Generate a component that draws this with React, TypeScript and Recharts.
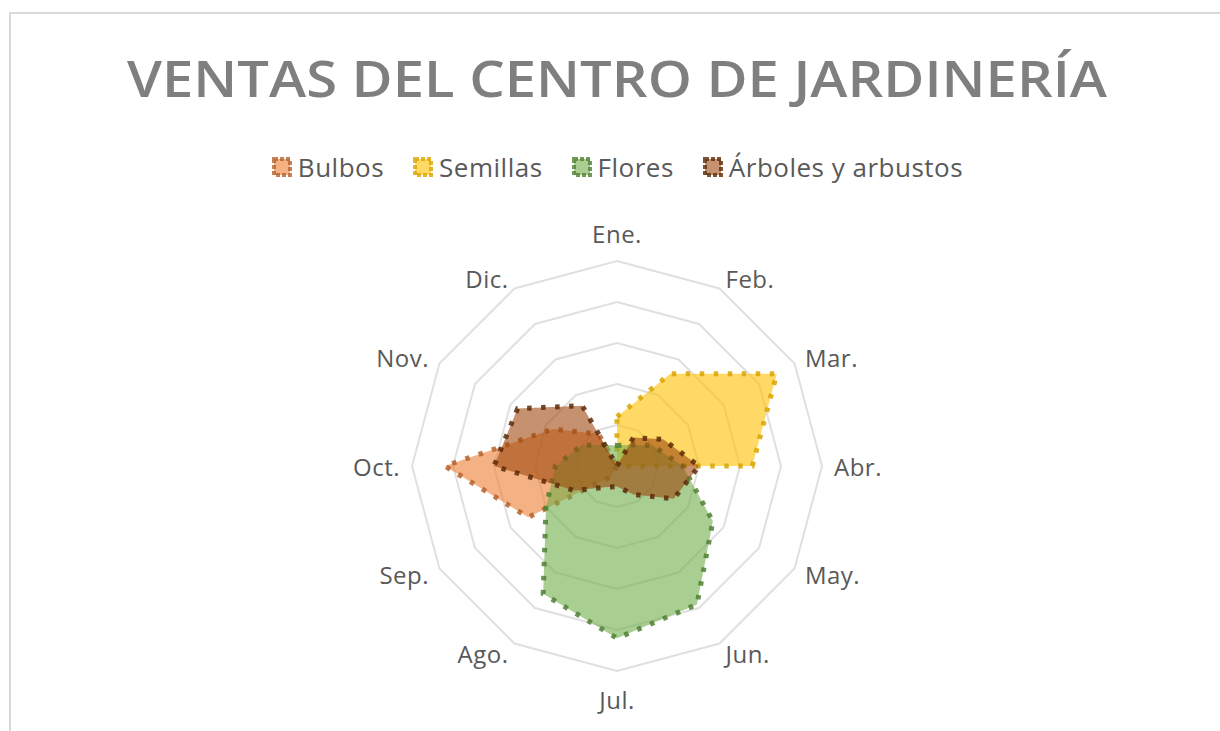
import React from 'react';
import { RadarChart, Radar, PolarGrid, PolarAngleAxis, PolarRadiusAxis } from 'recharts';

const months = ['Ene.', 'Feb.', 'Mar.', 'Abr.', 'May.', 'Jun.', 'Jul.', 'Ago.', 'Sep.', 'Oct.', 'Nov.', 'Dic.'];
const bulbos = [0, 0, 0, 0, 0, 0, 0, 0.3, 2.5, 4.2, 1.8, 0.9];
const semillas = [1.2, 2.6, 4.5, 3.3, 0, 0, 0, 0, 0, 0, 0, 0];
const flores = [0.5, 0.6, 1.0, 1.6, 2.7, 3.9, 4.2, 3.6, 2.0, 1.5, 1.0, 0.6];
const arboles = [0, 0.8, 1.3, 2.0, 1.6, 0.8, 0.5, 0.6, 1.2, 3.0, 2.8, 1.7];

const series = [
  { key: 'Bulbos', fill: '#ED7D31', stroke: '#B4612A' },
  { key: 'Semillas', fill: '#FFC000', stroke: '#D9A400' },
  { key: 'Flores', fill: '#70AD47', stroke: '#4F7F33' },
  { key: 'Árboles y arbustos', fill: '#9E480E', stroke: '#5A2A08' },
];

const data = months.map((m, i) => ({
  month: m,
  Bulbos: bulbos[i],
  Semillas: semillas[i],
  Flores: flores[i],
  'Árboles y arbustos': arboles[i],
}));

const CX = 617;
const CY = 466;
const R = 205;
const FONT = '"Open Sans", sans-serif';

const MonthTick = (props: any) => {
  const { payload } = props;
  const a = (payload.coordinate * Math.PI) / 180;
  const cos = Math.cos(a);
  const sin = Math.sin(a);
  const x = CX + (R + 12) * cos;
  let y = CY - (R + 12) * sin;
  const anchor = Math.abs(cos) < 0.01 ? 'middle' : cos > 0 ? 'start' : 'end';
  if (anchor === 'middle') y -= 16 * Math.sign(sin);
  return (
    <text x={x} y={y} textAnchor={anchor} dominantBaseline="central"
      fill="#595959" fontSize={24} fontFamily={FONT} letterSpacing={0.5}>
      {payload.value}
    </text>
  );
};

const LegendRow = () => (
  <div style={{
    position: 'absolute', left: 0, top: 150, width: 1234, height: 34,
    display: 'flex', justifyContent: 'center', alignItems: 'center', gap: 28,
    fontFamily: FONT, fontSize: 26, color: '#595959', letterSpacing: 0.5,
  }}>
    {series.map((s) => (
      <div key={s.key} style={{ display: 'flex', alignItems: 'center', gap: 5 }}>
        <svg width={22} height={22}>
          <rect x={3} y={3} width={16} height={16} fill={s.fill} fillOpacity={0.6}
            stroke={s.stroke} strokeOpacity={0.8} strokeWidth={4} strokeDasharray="4 2" />
        </svg>
        <span style={{ lineHeight: '34px' }}>{s.key}</span>
      </div>
    ))}
  </div>
);

export default function App() {
  return (
    <div style={{ position: 'absolute', left: 0, top: 0, width: 1220, height: 731, overflow: 'hidden', background: '#fff' }}>
      <div style={{
        position: 'absolute', left: 9, top: 12, width: 1300, height: 800,
        borderTop: '2px solid #d9d9d9', borderLeft: '2px solid #d9d9d9',
      }} />
      <svg style={{ position: 'absolute', left: 0, top: 0 }} width={1220} height={120}>
        <text x={127} y={97} textLength={980} lengthAdjust="spacingAndGlyphs"
          fill="#7F7F7F" fontSize={50} fontWeight={600} fontFamily={FONT}>
          VENTAS DEL CENTRO DE JARDINERÍA
        </text>
      </svg>
      <LegendRow />
      <div style={{ position: 'absolute', left: 0, top: 0 }}>
        <RadarChart width={1220} height={731} data={data} cx={CX} cy={CY} outerRadius={R}
          margin={{ top: 0, right: 0, bottom: 0, left: 0 }}>
          <PolarGrid gridType="polygon" radialLines={false} stroke="#e0e0e0" strokeWidth={2}
            polarRadius={[41, 82, 123, 164, 205]} />
          <PolarAngleAxis dataKey="month" tick={MonthTick} tickLine={false} axisLine={false} />
          <PolarRadiusAxis domain={[0, 5]} tick={false} axisLine={false} tickCount={6} />
          {series.map((s) => (
            <Radar key={s.key} dataKey={s.key} name={s.key} fill={s.fill} fillOpacity={0.6}
              stroke={s.stroke} strokeOpacity={0.85} strokeWidth={5} strokeDasharray="4.5 9.5"
              dot={false} isAnimationActive={false} />
          ))}
        </RadarChart>
      </div>
    </div>
  );
}
